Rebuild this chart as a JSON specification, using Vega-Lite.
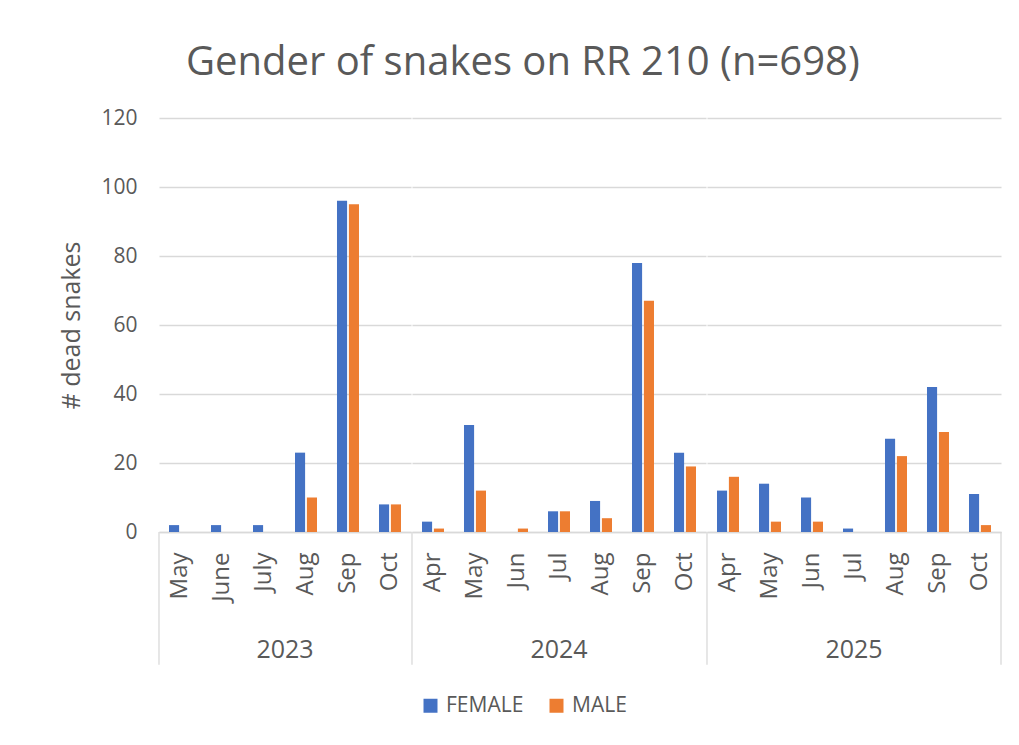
{
  "$schema": "https://vega.github.io/schema/vega-lite/v6.json",
  "background": "white",
  "padding": {"left": 59, "top": 43, "right": 19, "bottom": 5},
  "title": {
    "text": "Gender of snakes on RR 210 (n=698)",
    "fontSize": 40,
    "font": "Open Sans",
    "fontWeight": "normal",
    "color": "#595959",
    "anchor": "middle",
    "frame": "bounds",
    "dx": -8,
    "offset": 24
  },
  "data": {
    "values": [
      {"year": "2023", "month": "May", "sex": "FEMALE", "count": 2},
      {"year": "2023", "month": "June", "sex": "FEMALE", "count": 2},
      {"year": "2023", "month": "July", "sex": "FEMALE", "count": 2},
      {"year": "2023", "month": "Aug", "sex": "FEMALE", "count": 23},
      {"year": "2023", "month": "Aug", "sex": "MALE", "count": 10},
      {"year": "2023", "month": "Sep", "sex": "FEMALE", "count": 96},
      {"year": "2023", "month": "Sep", "sex": "MALE", "count": 95},
      {"year": "2023", "month": "Oct", "sex": "FEMALE", "count": 8},
      {"year": "2023", "month": "Oct", "sex": "MALE", "count": 8},
      {"year": "2024", "month": "Apr", "sex": "FEMALE", "count": 3},
      {"year": "2024", "month": "Apr", "sex": "MALE", "count": 1},
      {"year": "2024", "month": "May", "sex": "FEMALE", "count": 31},
      {"year": "2024", "month": "May", "sex": "MALE", "count": 12},
      {"year": "2024", "month": "Jun", "sex": "MALE", "count": 1},
      {"year": "2024", "month": "Jul", "sex": "FEMALE", "count": 6},
      {"year": "2024", "month": "Jul", "sex": "MALE", "count": 6},
      {"year": "2024", "month": "Aug", "sex": "FEMALE", "count": 9},
      {"year": "2024", "month": "Aug", "sex": "MALE", "count": 4},
      {"year": "2024", "month": "Sep", "sex": "FEMALE", "count": 78},
      {"year": "2024", "month": "Sep", "sex": "MALE", "count": 67},
      {"year": "2024", "month": "Oct", "sex": "FEMALE", "count": 23},
      {"year": "2024", "month": "Oct", "sex": "MALE", "count": 19},
      {"year": "2025", "month": "Apr", "sex": "FEMALE", "count": 12},
      {"year": "2025", "month": "Apr", "sex": "MALE", "count": 16},
      {"year": "2025", "month": "May", "sex": "FEMALE", "count": 14},
      {"year": "2025", "month": "May", "sex": "MALE", "count": 3},
      {"year": "2025", "month": "Jun", "sex": "FEMALE", "count": 10},
      {"year": "2025", "month": "Jun", "sex": "MALE", "count": 3},
      {"year": "2025", "month": "Jul", "sex": "FEMALE", "count": 1},
      {"year": "2025", "month": "Aug", "sex": "FEMALE", "count": 27},
      {"year": "2025", "month": "Aug", "sex": "MALE", "count": 22},
      {"year": "2025", "month": "Sep", "sex": "FEMALE", "count": 42},
      {"year": "2025", "month": "Sep", "sex": "MALE", "count": 29},
      {"year": "2025", "month": "Oct", "sex": "FEMALE", "count": 11},
      {"year": "2025", "month": "Oct", "sex": "MALE", "count": 2}
    ]
  },
  "facet": {
    "column": {
      "field": "year",
      "type": "ordinal",
      "header": {
        "title": null,
        "labelOrient": "bottom",
        "labelFontSize": 25,
        "labelFont": "Open Sans",
        "labelColor": "#595959",
        "labelPadding": -28
      }
    }
  },
  "spacing": 0,
  "resolve": {"scale": {"x": "independent"}},
  "spec": {
    "width": {"step": 42, "for": "position"},
    "height": 414,
    "layer": [
      {
        "mark": {"type": "bar"},
        "encoding": {
          "x": {
            "field": "month",
            "type": "nominal",
            "sort": null,
            "title": null,
            "scale": {"paddingInner": 0.476, "paddingOuter": 0.238},
            "axis": {
              "labelAngle": -90,
              "labelFontSize": 24,
              "labelFont": "Open Sans",
              "labelColor": "#595959",
              "labelPadding": 20,
              "ticks": false,
              "domainColor": "#d9d9d9",
              "domainWidth": 1.3
            }
          },
          "xOffset": {
            "field": "sex",
            "type": "nominal",
            "sort": ["FEMALE", "MALE"],
            "scale": {"range": [0, 22], "paddingInner": 0.15}
          },
          "y": {
            "field": "count",
            "type": "quantitative",
            "scale": {"domain": [0, 120]},
            "axis": {
              "values": [0, 20, 40, 60, 80, 100, 120],
              "title": "# dead snakes",
              "titleFontSize": 25,
              "titleFont": "Open Sans",
              "titleFontWeight": "normal",
              "titleColor": "#595959",
              "titlePadding": 16,
              "labelFontSize": 21,
              "labelFont": "Open Sans",
              "labelColor": "#595959",
              "labelPadding": 21,
              "domain": false,
              "ticks": false,
              "grid": true,
              "gridColor": "#d9d9d9",
              "gridWidth": 1.3
            }
          },
          "color": {
            "field": "sex",
            "type": "nominal",
            "scale": {"domain": ["FEMALE", "MALE"], "range": ["#4472C4", "#ED7D31"]},
            "legend": {
              "title": null,
              "orient": "none",
              "legendX": 261,
              "legendY": 577,
              "direction": "horizontal",
              "symbolType": "square",
              "symbolSize": 196,
              "symbolStrokeWidth": 0,
              "labelFontSize": 21,
              "labelFont": "Open Sans",
              "labelColor": "#595959",
              "labelOffset": 5,
              "columnPadding": 22
            }
          }
        }
      },
      {
        "transform": [
          {"filter": "datum.sex == 'FEMALE' && ((datum.year == '2023' && datum.month == 'May') || (datum.year != '2023' && datum.month == 'Apr'))"}
        ],
        "mark": {"type": "rule", "color": "#d9d9d9", "strokeWidth": 1.3},
        "encoding": {
          "x": {"field": "month", "type": "nominal", "sort": null, "bandPosition": -0.4545},
          "y": {"datum": 0},
          "y2": {"datum": -38.5}
        }
      },
      {
        "transform": [
          {"filter": "datum.sex == 'FEMALE' && datum.year == '2025' && datum.month == 'Oct'"}
        ],
        "mark": {"type": "rule", "color": "#d9d9d9", "strokeWidth": 1.3},
        "encoding": {
          "x": {"field": "month", "type": "nominal", "sort": null, "bandPosition": 1.4545},
          "y": {"datum": 0},
          "y2": {"datum": -38.5}
        }
      }
    ]
  },
  "config": {
    "view": {"stroke": null},
    "font": "Open Sans"
  }
}
